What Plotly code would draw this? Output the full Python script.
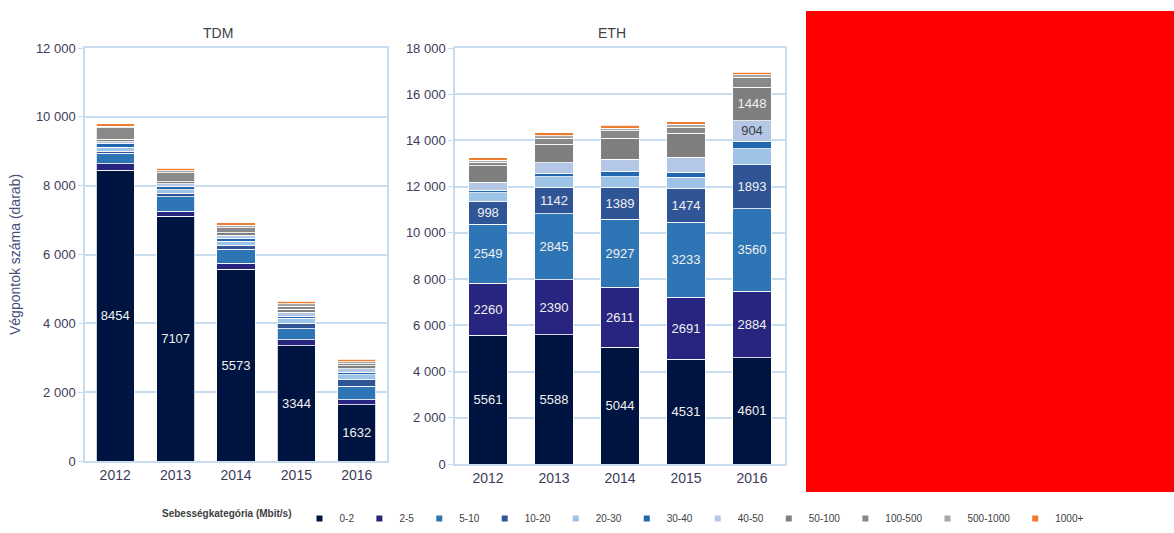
import plotly.graph_objects as go

years = ["2012", "2013", "2014", "2015", "2016"]
categories = ["0-2", "2-5", "5-10", "10-20", "20-30", "30-40", "40-50",
              "50-100", "100-500", "500-1000", "1000+"]
colors = ["#001441", "#27257f", "#2e75b6", "#2f5597", "#9dc3e6", "#2266b0",
          "#b4c7e7", "#7f7f7f", "#898989", "#a6a6a6", "#ed7d31"]

# TDM series (per speed category, 2012..2016)
tdm_0_2 = [8454, 7107, 5573, 3344, 1632]
tdm_2_5 = [190, 150, 175, 175, 145]
tdm_5_10 = [300, 420, 400, 320, 390]
tdm_10_20 = [60, 100, 115, 165, 195]
tdm_20_30 = [110, 100, 120, 140, 150]
tdm_30_40 = [100, 100, 70, 60, 60]
tdm_40_50 = [60, 80, 100, 120, 110]
tdm_50_100 = [80, 60, 80, 90, 80]
tdm_100_500 = [330, 260, 140, 80, 60]
tdm_500_1000 = [40, 60, 80, 80, 60]
tdm_1000p = [70, 70, 70, 70, 70]

# ETH series
eth_0_2 = [5561, 5588, 5044, 4531, 4601]
eth_2_5 = [2260, 2390, 2611, 2691, 2884]
eth_5_10 = [2549, 2845, 2927, 3233, 3560]
eth_10_20 = [998, 1142, 1389, 1474, 1893]
eth_20_30 = [360, 460, 450, 480, 700]
eth_30_40 = [110, 150, 250, 220, 320]
eth_40_50 = [360, 470, 520, 640, 904]
eth_50_100 = [700, 800, 900, 1050, 1448]
eth_100_500 = [150, 250, 320, 260, 430]
eth_500_1000 = [100, 110, 120, 120, 100]
eth_1000p = [110, 120, 120, 120, 120]

tdm_series = [tdm_0_2, tdm_2_5, tdm_5_10, tdm_10_20, tdm_20_30, tdm_30_40,
              tdm_40_50, tdm_50_100, tdm_100_500, tdm_500_1000, tdm_1000p]
eth_series = [eth_0_2, eth_2_5, eth_5_10, eth_10_20, eth_20_30, eth_30_40,
              eth_40_50, eth_50_100, eth_100_500, eth_500_1000, eth_1000p]

# which segments carry a value label
tdm_labeled = {"0-2": [True] * 5}
eth_labeled = {
    "0-2": [True] * 5, "2-5": [True] * 5, "5-10": [True] * 5, "10-20": [True] * 5,
    "40-50": [False, False, False, False, True],
    "50-100": [False, False, False, False, True],
}

W, H = 1174, 533
def px_x(v): return v / W
def px_y(v): return (H - v) / H

fig = go.Figure()

def add_stack(series, labeled, xa, ya, width):
    for cat, vals, col in zip(categories, series, colors):
        mask = labeled.get(cat, [False] * len(vals))
        text = [str(v) if m else "" for v, m in zip(vals, mask)]
        tcol = "#404040" if cat == "40-50" else "#f0f0f0"
        fig.add_trace(go.Bar(
            x=years, y=vals, name=cat, marker_color=col,
            marker_line=dict(color="white", width=0.8),
            width=width, text=text, texttemplate="%{text}",
            textposition="inside", insidetextanchor="middle",
            textangle=0, constraintext="none",
            textfont=dict(size=13, color=tcol, family="Arial, Liberation Sans"),
            xaxis=xa, yaxis=ya, showlegend=False, hoverinfo="x+y+name",
        ))

add_stack(tdm_series, tdm_labeled, "x", "y", 0.63)
add_stack(eth_series, eth_labeled, "x2", "y2", 0.59)

# legend entries
for cat, col in zip(categories, colors):
    fig.add_trace(go.Scatter(
        x=[None], y=[None], mode="markers", name=cat,
        marker=dict(symbol="square", size=6, color=col),
        xaxis="x", yaxis="y", showlegend=True,
    ))

grid = "#c8dcf0"
tickfont = dict(size=13, color="#3c3c5a", family="Arial, Liberation Sans")
axis_common = dict(showgrid=True, gridcolor=grid, gridwidth=1.5,
                   showline=True, linecolor=grid, linewidth=1.5, mirror=True,
                   ticks="outside", ticklen=5, tickcolor=grid, tickfont=tickfont,
                   tickformat=",d", zeroline=False, automargin=False)
xaxis_common = dict(showline=True, linecolor=grid, linewidth=1.5, mirror=True,
                    ticks="", automargin=False,
                    tickfont=dict(size=14, color="#3c3c5a",
                                  family="Arial, Liberation Sans"))

fig.update_layout(
    width=W, height=H,
    margin=dict(l=0, r=0, t=0, b=0, pad=0, autoexpand=False),
    paper_bgcolor="white", plot_bgcolor="white",
    barmode="stack",
    separators=", ",
    font=dict(family="Arial, Liberation Sans", color="#3c3c5a"),
    xaxis=dict(domain=[px_x(85), px_x(387)], anchor="y", **xaxis_common),
    yaxis=dict(domain=[px_y(461), px_y(48)], anchor="x", range=[0, 12000],
               dtick=2000,
               title=dict(text="Végpontok száma (darab)",
                          font=dict(size=14, color="#45507a"), standoff=12),
               **axis_common),
    xaxis2=dict(domain=[px_x(455), px_x(785)], anchor="y2", **xaxis_common),
    yaxis2=dict(domain=[px_y(464), px_y(48)], anchor="x2", range=[0, 18000],
                dtick=2000, **axis_common),
    legend=dict(orientation="h", x=px_x(160), xanchor="left",
                y=0.0, yanchor="bottom", traceorder="normal",
                font=dict(size=10, color="#404040"),
                title=dict(text="<b>Sebességkategória (Mbit/s)</b>",
                           font=dict(size=10, color="#404040"), side="left"),
                itemwidth=30, tracegroupgap=0),
    annotations=[
        dict(text="TDM", x=px_x(201), y=px_y(23), xref="paper", yref="paper",
             showarrow=False, font=dict(size=14, color="#404040")),
        dict(text="ETH", x=px_x(612), y=px_y(23), xref="paper", yref="paper",
             showarrow=False, font=dict(size=14, color="#404040")),
    ],
    shapes=[dict(type="rect", xref="paper", yref="paper",
                 x0=px_x(806), x1=1.0, y0=px_y(492), y1=px_y(11),
                 fillcolor="#ff0000", line=dict(width=0), layer="above")],
)

fig.write_html("out.html",
               config={"displayModeBar": False},
               post_script="document.body.style.margin='0';"
                           "document.body.style.overflow='hidden';")
